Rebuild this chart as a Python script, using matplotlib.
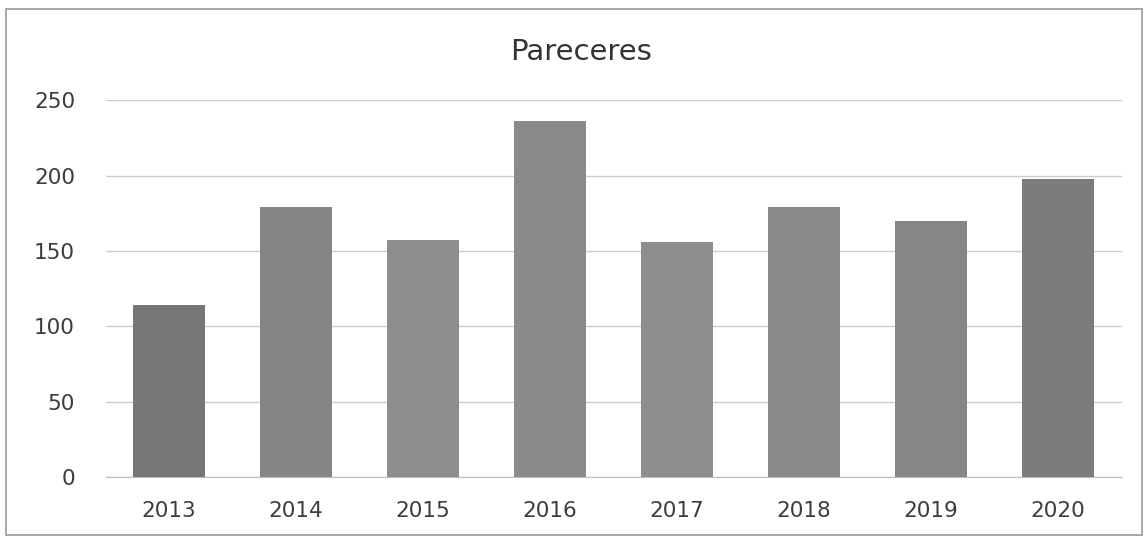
import matplotlib
matplotlib.use("Agg")
import matplotlib.pyplot as plt
from matplotlib.patches import Rectangle

years = ["2013", "2014", "2015", "2016", "2017", "2018", "2019", "2020"]
values = [114, 179, 157, 236, 156, 179, 170, 198]
yticks = [0, 50, 100, 150, 200, 250]
bar_colors = ["#767676", "#858585", "#8e8e8e", "#8a8a8a", "#8e8e8e", "#8a8a8a", "#868686", "#7c7c7c"]

plt.rcParams['font.family'] = ['DejaVu Sans']

fig = plt.figure(figsize=(11.48, 5.41), dpi=100)
fig.patches.append(Rectangle((0.005, 0.012), 0.99, 0.972, transform=fig.transFigure,
                             fill=False, edgecolor="#9a9a9a", linewidth=1.2))
ax = fig.add_axes([0.092, 0.118, 0.885, 0.697])

x = range(len(years))
ax.bar(x, values, width=0.57, color=bar_colors, zorder=3)
ax.set_xlim(-0.5, len(years) - 0.5)
ax.set_ylim(0, 250)
ax.set_yticks(yticks)
ax.set_xticks(list(x))
ax.set_xticklabels(years)
ax.yaxis.grid(True, color="#cccccc", linewidth=1.0, zorder=0)
for s in ["top", "right", "left"]:
    ax.spines[s].set_visible(False)
ax.spines["bottom"].set_color("#bdbdbd")
ax.tick_params(axis="both", length=0, labelsize=15.5, colors="#3c3c3c")
ax.tick_params(axis="x", pad=17)
ax.tick_params(axis="y", pad=22)
fig.text(0.506, 0.904, "Pareceres", ha="center", va="center", fontsize=21, color="#333333")

fig.savefig("out.png", dpi=100)
